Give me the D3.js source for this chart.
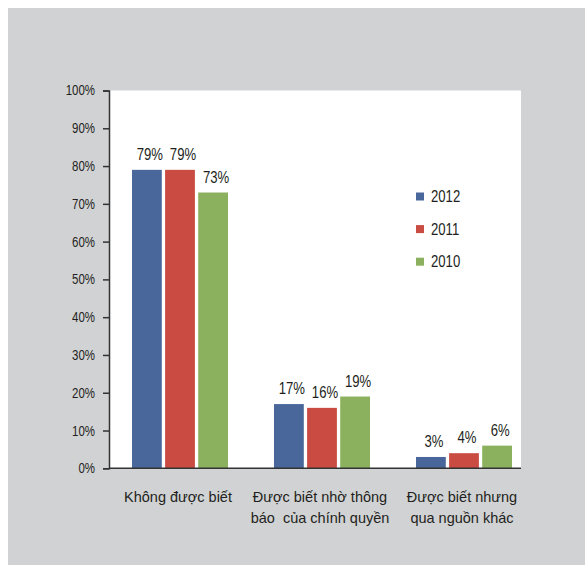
<!DOCTYPE html>
<html>
<head>
<meta charset="utf-8">
<script src="https://cdn.jsdelivr.net/npm/d3@7"></script>
<style>
  html, body { margin: 0; padding: 0; background: #ffffff; }
  svg text { font-family: "Liberation Sans", Arial, sans-serif; fill: #231f20; }
</style>
</head>
<body>
<svg id="chart" width="585" height="565"></svg>
<script>
// Category labels, one array of lines per group
const categoryLines = [
  ["Không được biết"],
  ["Được biết nhờ thông", "báo  của chính quyền"],
  ["Được biết nhưng", "qua nguồn khác"]
];
const years = ["2012", "2011", "2010"];
const values2012 = [79, 17, 3];
const values2011 = [79, 16, 4];
const values2010 = [73, 19, 6];
const yTicks = [0, 10, 20, 30, 40, 50, 60, 70, 80, 90, 100];
const colors = ["#49679b", "#c94b42", "#8cb15e"];

const seriesValues = [values2012, values2011, values2010];
const numStretch = 0.82; // digits are set narrower than the body text
const svg = d3.select("#chart");

// Panel backgrounds
svg.append("rect").attr("x", 8).attr("y", 8).attr("width", 577).attr("height", 557).attr("fill", "#d1d2d4");

const plotLeft = 109, plotRight = 521, plotTop = 90.5, plotBottom = 468.3;
svg.append("rect").attr("x", plotLeft).attr("y", plotTop)
  .attr("width", plotRight - plotLeft).attr("height", plotBottom - plotTop).attr("fill", "#ffffff");

const y = d3.scaleLinear().domain([0, 100]).range([plotBottom, plotTop]);
const x0 = d3.scaleBand().domain(d3.range(categoryLines.length))
  .range([plotLeft, 535]).paddingInner(0.324).paddingOuter(0.162);
const x1 = d3.scaleBand().domain(years).range([0, x0.bandwidth()]).paddingInner(0.1);

// Bars
const groups = svg.append("g").selectAll("g")
  .data(d3.range(categoryLines.length)).join("g")
  .attr("transform", i => `translate(${x0(i)},0)`);

const barData = i => years.map((yr, s) => ({ yr, s, v: seriesValues[s][i] }));

groups.selectAll("rect")
  .data(barData)
  .join("rect")
  .attr("x", d => x1(d.yr))
  .attr("y", d => y(d.v))
  .attr("width", x1.bandwidth())
  .attr("height", d => y(0) - y(d.v))
  .attr("fill", d => colors[d.s]);

// Value labels
groups.selectAll("text")
  .data(barData)
  .join("text")
  .attr("transform", d => `translate(${x1(d.yr) + x1.bandwidth() / 2 + 3},${y(d.v) - 10}) scale(${numStretch},1)`)
  .attr("text-anchor", "middle")
  .attr("font-size", 16)
  .text(d => d.v + "%");

// Y axis
const yAxis = svg.append("g").attr("transform", `translate(${plotLeft},0)`)
  .call(d3.axisLeft(y).tickValues(yTicks).tickFormat(d => d + "%")
    .tickSize(6).tickSizeOuter(6).tickPadding(8));
yAxis.selectAll("path, line").attr("stroke", "#333333").attr("stroke-width", 1.5);
yAxis.selectAll(".tick text")
  .attr("font-size", 14).attr("font-family", null).style("fill", "#231f20")
  .attr("transform", `translate(-14,0) scale(${numStretch},1)`)
  .attr("x", 0);

// Baseline
svg.append("line").attr("x1", plotLeft).attr("x2", plotRight)
  .attr("y1", y(0)).attr("y2", y(0)).attr("stroke", "#333333").attr("stroke-width", 1.5);

// Category labels
svg.append("g").selectAll("text")
  .data(d3.range(categoryLines.length)).join("text")
  .attr("x", i => x0(i) + x0.bandwidth() / 2 - 2)
  .attr("y", 502)
  .attr("text-anchor", "middle")
  .attr("font-size", 14.5)
  .style("white-space", "pre")
  .each(function (i) {
    d3.select(this).selectAll("tspan").data(categoryLines[i]).join("tspan")
      .attr("x", x0(i) + x0.bandwidth() / 2 - 2)
      .attr("dy", (d, k) => k === 0 ? 0 : 21)
      .text(d => d);
  });

// Legend
const legend = svg.append("g").selectAll("g").data(years).join("g")
  .attr("transform", (d, k) => `translate(416,${192.5 + k * 32.6})`);
legend.append("rect").attr("width", 8).attr("height", 8).attr("fill", (d, k) => colors[k]);
legend.append("text")
  .attr("transform", `translate(15,4) scale(${numStretch},1)`)
  .attr("dy", "0.35em")
  .attr("font-size", 16).text(d => d);
</script>
</body>
</html>
